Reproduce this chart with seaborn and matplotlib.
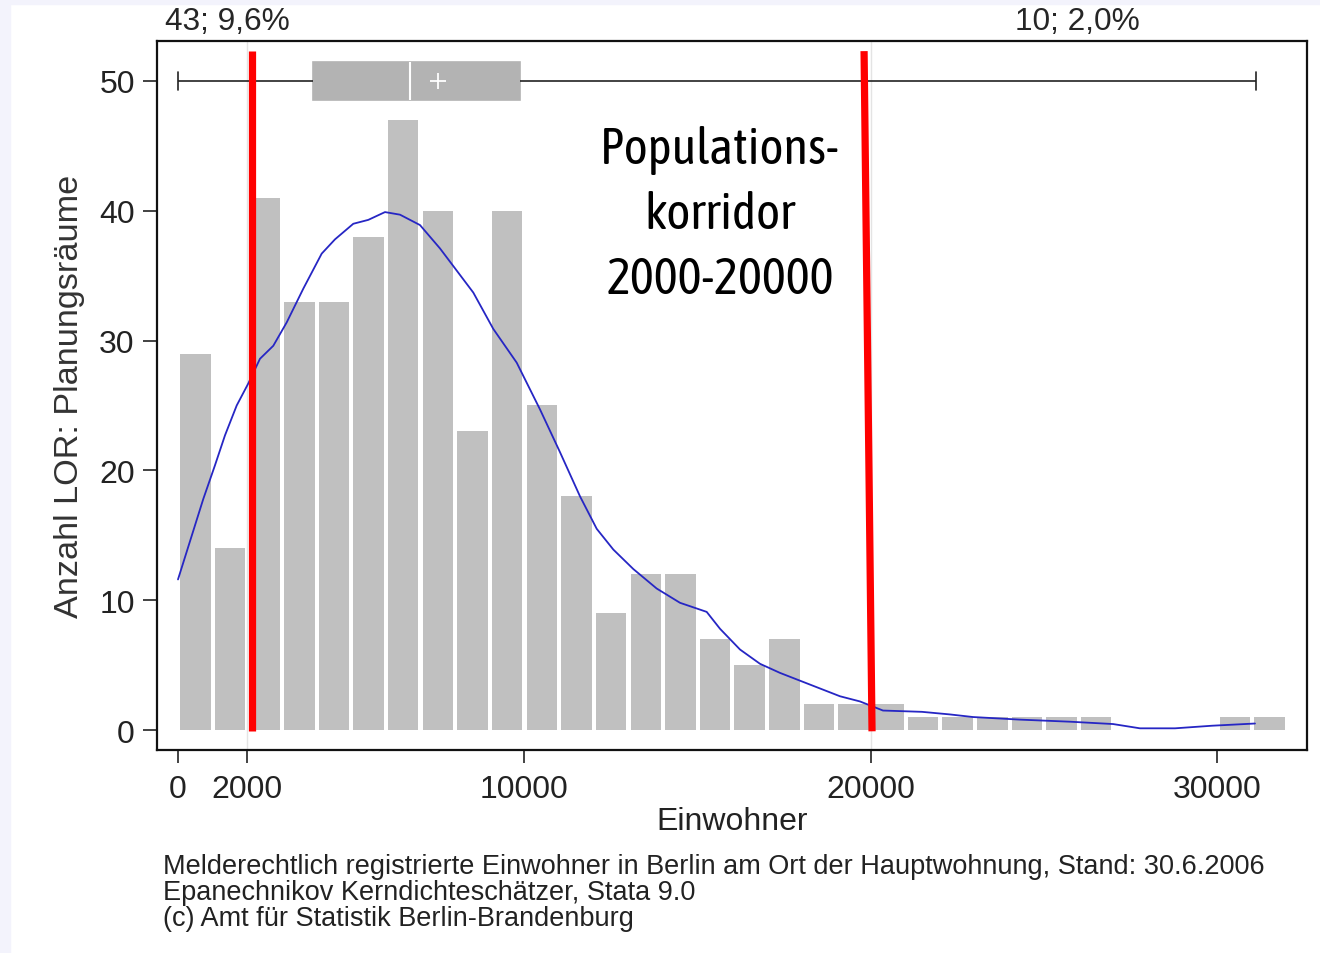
import numpy as np
import pandas as pd
import seaborn as sns
import matplotlib.pyplot as plt
from matplotlib import font_manager
from matplotlib.patches import Rectangle

# Histogramm: Einwohner je Planungsraum, Klassenbreite 1000
bin_edges = list(range(0, 33000, 1000))
counts = [29, 14, 41, 33, 33, 38, 47, 40, 23, 40, 25, 18, 9, 12, 12, 7,
          5, 7, 2, 2, 2, 1, 1, 1, 1, 1, 1, 0, 0, 0, 1, 1]

# Kerndichteschätzer (in Häufigkeiten skaliert)
kde_x = [0, 730, 1068, 1356, 1694, 2029, 2366, 2750, 3137, 3616, 4147,
         4531, 5059, 5492, 5974, 6407, 6984, 7561, 8522, 9099, 9775, 10447,
         11025, 11602, 12084, 12564, 13141, 13815, 14488, 15258, 15642,
         16220, 16797, 17374, 17951, 18528, 19105, 19683, 20346, 21472,
         22280, 22944, 24300, 25743, 26984, 27763, 28773, 29841, 31082]
kde_y = [11.6, 17.8, 20.4, 22.7, 25.0, 26.7, 28.6, 29.6, 31.4, 34.0, 36.7,
         37.8, 39.0, 39.3, 39.9, 39.7, 38.9, 37.1, 33.7, 30.9, 28.3, 24.7,
         21.4, 18.0, 15.5, 13.9, 12.4, 10.9, 9.8, 9.1, 7.8,
         6.2, 5.1, 4.4, 3.8, 3.2, 2.6, 2.2, 1.5, 1.4,
         1.2, 1.0, 0.8, 0.64, 0.46, 0.13, 0.13, 0.33, 0.5]

# Boxplot-Kennwerte: Minimum, Q1, Median, Q3, Maximum; Mittelwert
box_stats = [0, 3900, 6700, 9870, 31100]
box_mean = 7500
box_level = 50

corridor = [2000, 20000]
red_top = [2130, 19800]
red_bottom = [2130, 20030]
corner_labels = ["43; 9,6%", "10; 2,0%"]
xticks = [0, 2000, 10000, 20000, 30000]
yticks = [0, 10, 20, 30, 40, 50]
footnote = ["Melderechtlich registrierte Einwohner in Berlin am Ort der Hauptwohnung, Stand: 30.6.2006",
            "Epanechnikov Kerndichteschätzer, Stata 9.0",
            "(c) Amt für Statistik Berlin-Brandenburg"]

sns.set_style("ticks")
plt.rcParams['font.family'] = ['Liberation Sans', 'DejaVu Sans']

# schmale Schrift für den Korridor-Text, falls vorhanden
def find_font(name_part):
    for f in font_manager.fontManager.ttflist:
        if name_part in f.name and f.style == "normal" and f.weight in ("normal", 400, "regular"):
            return f.fname
    return None

narrow_file = find_font("Liberation Sans Narrow")
if narrow_file:
    corr_font = dict(fontproperties=font_manager.FontProperties(fname=narrow_file, size=37))
    corr_spacing = 1.45
else:
    cond_file = find_font("Condensed")
    if cond_file:
        corr_font = dict(fontproperties=font_manager.FontProperties(fname=cond_file, size=36.5))
        corr_spacing = 1.42
    else:
        corr_font = dict(fontsize=32)
        corr_spacing = 1.62

fig = plt.figure(figsize=(13.2, 9.54), dpi=100)
fig.patch.set_facecolor("white")
# hellvioletter Rand links/oben
fig.patches.append(Rectangle((0, 0), 10 / 1320, 1, transform=fig.transFigure, color="#f3f3fc", zorder=0))
fig.patches.append(Rectangle((0, 1 - 5 / 954), 1, 5 / 954, transform=fig.transFigure, color="#f3f3fc", zorder=0))

ax = fig.add_axes([157 / 1320, 1 - 751 / 954, 1150 / 1320, 709 / 954])

centers = [e + 500 for e in bin_edges[:-1]]
hist_df = pd.DataFrame({"x": centers, "n": counts})
sns.histplot(data=hist_df, x="x", weights="n", bins=bin_edges, shrink=0.88,
             color="#c0c0c0", alpha=1, edgecolor="none", ax=ax, zorder=2)

for c in corridor:
    ax.axvline(c, color="#e4e4e4", lw=1, zorder=1)

sns.lineplot(x=kde_x, y=kde_y, color="#2626c4", lw=1.3, ax=ax, zorder=3)

sns.boxplot(x=box_stats, y=[box_level] * len(box_stats), orient="h", native_scale=True,
            whis=(0, 100), width=2.9, color="#b3b3b3", linecolor="#222222", linewidth=1.2,
            showfliers=False, medianprops=dict(color="white", linewidth=1.5),
            boxprops=dict(edgecolor="#b3b3b3"), ax=ax, zorder=4)
ax.plot([box_mean], [box_level], marker="+", color="white", ms=12, mew=1.3, zorder=6)

for x0, x1 in zip(red_top, red_bottom):
    ax.plot([x0, x1], [52.3, -0.1], color="#ff0000", lw=5.2, solid_capstyle="butt", zorder=7)

ax.set_xlim(-606, 32583)
ax.set_ylim(-1.54, 53.08)
ax.set_xticks(xticks)
ax.set_xticklabels([str(t) for t in xticks])
ax.set_yticks(yticks)
ax.tick_params(axis="both", labelsize=23, colors="#222222", width=1.2)
ax.tick_params(axis="y", length=10, pad=6)
ax.tick_params(axis="x", length=9, pad=8)
for s in ax.spines.values():
    s.set_linewidth(1.6)
    s.set_color("#111111")
    s.set_visible(True)
ax.set_xlabel("Einwohner", fontsize=23, color="#222222", labelpad=2)
ax.set_ylabel("Anzahl LOR: Planungsräume", fontsize=24.7, color="#333333", labelpad=10)

ax.text(15640, 39.7, "Populations-\nkorridor\n2000-20000",
        ha="center", va="center", linespacing=corr_spacing, color="black", zorder=8, **corr_font)

fig.text(165 / 1320, 1 - 22 / 954, corner_labels[0], fontsize=22.8, va="center", ha="left")
fig.text(1015 / 1320, 1 - 22 / 954, corner_labels[1], fontsize=22.8, va="center", ha="left")

for i, line in enumerate(footnote):
    fig.text(163 / 1320, 1 - (867 + 26 * i) / 954, line, fontsize=19.5, va="center",
             ha="left", color="#222222")

fig.savefig("out.png", dpi=100)
